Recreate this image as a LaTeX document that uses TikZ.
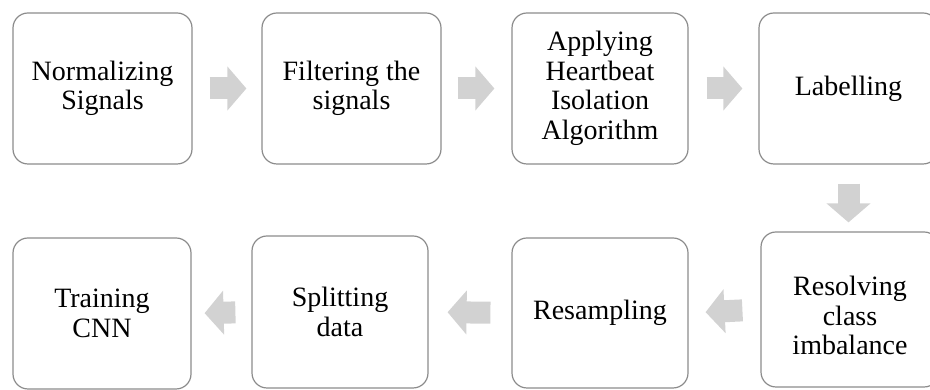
\documentclass[tikz,border=0pt]{standalone}
\usepackage{fontspec}
\setmainfont{Liberation Serif}
\usetikzlibrary{arrows.meta}

\tikzset{
	stage/.style={draw=gray!90,line width=1.2pt,rounded corners=15pt,fill=white,
		align=center,inner sep=2pt,font=\fontsize{28}{29.5}\selectfont},
	flow/.style={draw=gray!35,line width=22pt,line cap=butt,
		-{Triangle[length=19pt,width=43pt]}},
}

\begin{document}
\begin{tikzpicture}[x=1pt,y=1pt]
	\useasboundingbox (0,0) rectangle (930,390);
	% top row
	\node[stage,minimum width=179pt,minimum height=151pt] (norm) at (102.5,301.5) {Normalizing\\Signals};
	\node[stage,minimum width=179pt,minimum height=151pt] (filt) at (351.5,301.5) {Filtering the\\signals};
	\node[stage,minimum width=176pt,minimum height=151pt] (iso) at (600,301.5) {Applying\\Heartbeat\\Isolation\\Algorithm};
	\node[stage,minimum width=179pt,minimum height=151pt] (lab) at (848.5,301.5) {Labelling};
	% bottom row
	\node[stage,minimum width=178pt,minimum height=151pt] (cnn) at (102,76.5) {Training\\CNN};
	\node[stage,minimum width=176pt,minimum height=152pt] (split) at (340,78) {Splitting\\data};
	\node[stage,minimum width=176pt,minimum height=150pt] (resamp) at (600,77) {Resampling};
	\node[stage,minimum width=178pt,minimum height=155pt] (resolve) at (850,80.5) {};
	\node[stage,draw=none,fill=none] (resolvetxt) at ([yshift=-6pt]resolve.center) {Resolving\\class\\imbalance};

	\draw[flow,shorten <=17pt,shorten >=15pt] (norm.east) -- (filt.west);
	\draw[flow,shorten <=16pt,shorten >=17pt] (filt.east) -- (iso.west);
	\draw[flow,shorten <=18pt,shorten >=16pt] (iso.east) -- (lab.west);
	\draw[flow,shorten <=19pt,shorten >=9pt] (lab.south) -- (lab.south |- resolve.north);
	\draw[flow,shorten <=18pt,shorten >=17pt] (resolve.west) -- (resamp.east);
	\draw[flow,shorten <=21pt,shorten >=19pt] (resamp.west) -- (split.east);
	\draw[flow,shorten <=16pt,shorten >=13pt] (split.west) -- (cnn.east);
\end{tikzpicture}
\end{document}
